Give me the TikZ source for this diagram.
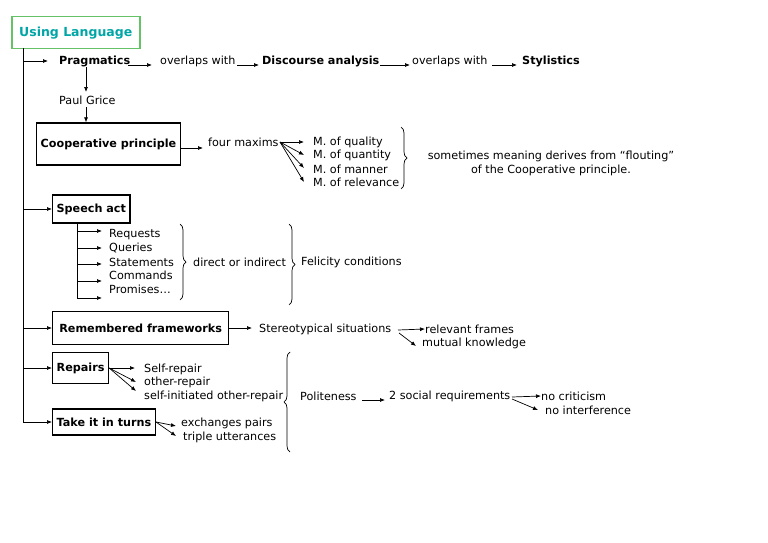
\documentclass[tikz,border=0pt]{standalone}
\usepackage{fontspec}
\setmainfont{DejaVu Sans}
\usetikzlibrary{decorations.pathreplacing,arrows.meta}
\begin{document}
\begin{tikzpicture}[x=1pt,y=-1pt,font=\fontsize{11.2}{13}\selectfont,
 txt/.style={anchor=west,inner sep=0pt},
 bf/.style={font=\fontsize{11.2}{13}\selectfont\bfseries},
 bx/.style={draw,line width=1.3pt,anchor=west,inner sep=4pt,font=\fontsize{11.2}{13}\selectfont\bfseries},
 ar/.style={-{Latex[length=5pt,width=4pt]},line width=0.7pt},
 br/.style={decorate,decoration={brace,amplitude=6pt},line width=0.7pt}]
\useasboundingbox (0,0) rectangle (768,543);
\node[draw=green!60!black!60,line width=1.5pt,minimum width=128pt,minimum height=32pt,anchor=north west,text=teal!70!cyan,font=\fontsize{12.5}{14}\selectfont\bfseries] (ul) at (11,16) {Using Language};
\coordinate (t0) at (23,48);
\coordinate (tend) at (23,422);
\draw[line width=0.7pt] (t0) -- (tend);
% Pragmatics row
\node[txt,bf] (prag) at (59,61) {Pragmatics};
\node[txt] (ov1) at (160,61) {overlaps with};
\node[txt,bf] (disc) at (262,61) {Discourse analysis};
\node[txt] (ov2) at (412,61) {overlaps with};
\node[txt,bf] (sty) at (522,61) {Stylistics};
\draw[ar] (23,61) -- (48,61);
\draw[ar] (128,65) -- (152,65);
\draw[ar] (237,65) -- (259,65);
\draw[ar] (380,65) -- (410,65);
\draw[ar] (492,65) -- (517,65);
\node[txt] (grice) at (59,100) {Paul Grice};
\draw[ar] (86,67) -- (86,92);
% Cooperative principle
\node[bx,minimum height=42pt,minimum width=142pt] (coop) at (36,144) {Cooperative principle};
\draw[ar] (86,107) -- (coop.north -| 86,0);
\node[txt] (fm) at (208,142) {four maxims};
\draw[ar] (coop.east |- 0,148) -- (203,148);
\node[txt] (m1) at (313,142) {M. of quality};
\node[txt] (m2) at (313,155) {M. of quantity};
\node[txt] (m3) at (313,169) {M. of manner};
\node[txt] (m4) at (313,182) {M. of relevance};
\foreach \y in {142,155,168,182} \draw[ar] (280,142) -- (304,\y);
\draw[br] (401,127) -- (401,189);
\node[align=center,inner sep=0pt] (flout) at (551,163) {sometimes meaning derives from “flouting”\\[1pt]of the Cooperative principle.};
% Speech act
\node[bx,minimum height=28pt] (sa) at (52,209) {Speech act};
\draw[ar] (23,209) -- (sa.west);
\draw[line width=0.7pt] (77,223) -- (77,298);
\foreach \y in {231,248,264,281,298} \draw[ar] (77,\y) -- (102,\y);
\node[txt] (r1) at (109,235) {Requests};
\node[txt] (r2) at (109,248) {Queries};
\node[txt] (r3) at (109,262) {Statements};
\node[txt] (r4) at (109,275) {Commands};
\node[txt] (r5) at (109,289) {Promises…};
\draw[br] (180,224) -- (180,300);
\node[txt] (doi) at (193,262) {direct or indirect};
\draw[br] (289,224) -- (289,305);
\node[txt] (fel) at (301,262) {Felicity conditions};
% Remembered frameworks
\node[bx,minimum height=33pt,minimum width=176pt] (rf) at (52,328) {Remembered frameworks};
\draw[ar] (23,328) -- (rf.west);
\node[txt] (st) at (259,329) {Stereotypical situations};
\draw[ar] (rf.east) -- (252,328);
\node[txt] (rel) at (425,329) {relevant frames};
\node[txt] (mk) at (422,343) {mutual knowledge};
\draw[ar] (398,330) -- (rel.west);
\draw[ar] (399,333) -- (416,346);
% Repairs
\node[bx,minimum height=31pt] (rep) at (52,368) {Repairs};
\draw[ar] (23,368) -- (rep.west);
\node[txt] (sr) at (144,369) {Self-repair};
\node[txt] (orp) at (144,382) {other-repair};
\node[txt] (sio) at (144,396) {self-initiated other-repair};
\draw[ar] (rep.east) -- (135,368);
\draw[ar] (rep.east) -- (136,382);
\draw[ar] (rep.east) -- (136,391);
% Take it in turns
\node[bx,minimum height=26pt] (tt) at (52,422) {Take it in turns};
\draw[ar] (tend) -- (tt.west);
\node[txt] (ep) at (181,423) {exchanges pairs};
\node[txt] (tu) at (183,437) {triple utterances};
\draw[ar] (tt.east) -- (176,426);
\draw[ar] (tt.east) -- (176,436);
% Politeness
\draw[br] (290,452) -- (290,352);
\node[txt] (pol) at (300,396) {Politeness};
\node[txt] (soc) at (389,396) {2 social requirements};
\draw[ar] (362,400) -- (385,400);
\node[txt] (nc) at (541,396) {no criticism};
\node[txt] (ni) at (545,410) {no interference};
\draw[ar] (512,397) -- (nc.west);
\draw[ar] (512,399) -- (538,410);
\end{tikzpicture}
\end{document}
